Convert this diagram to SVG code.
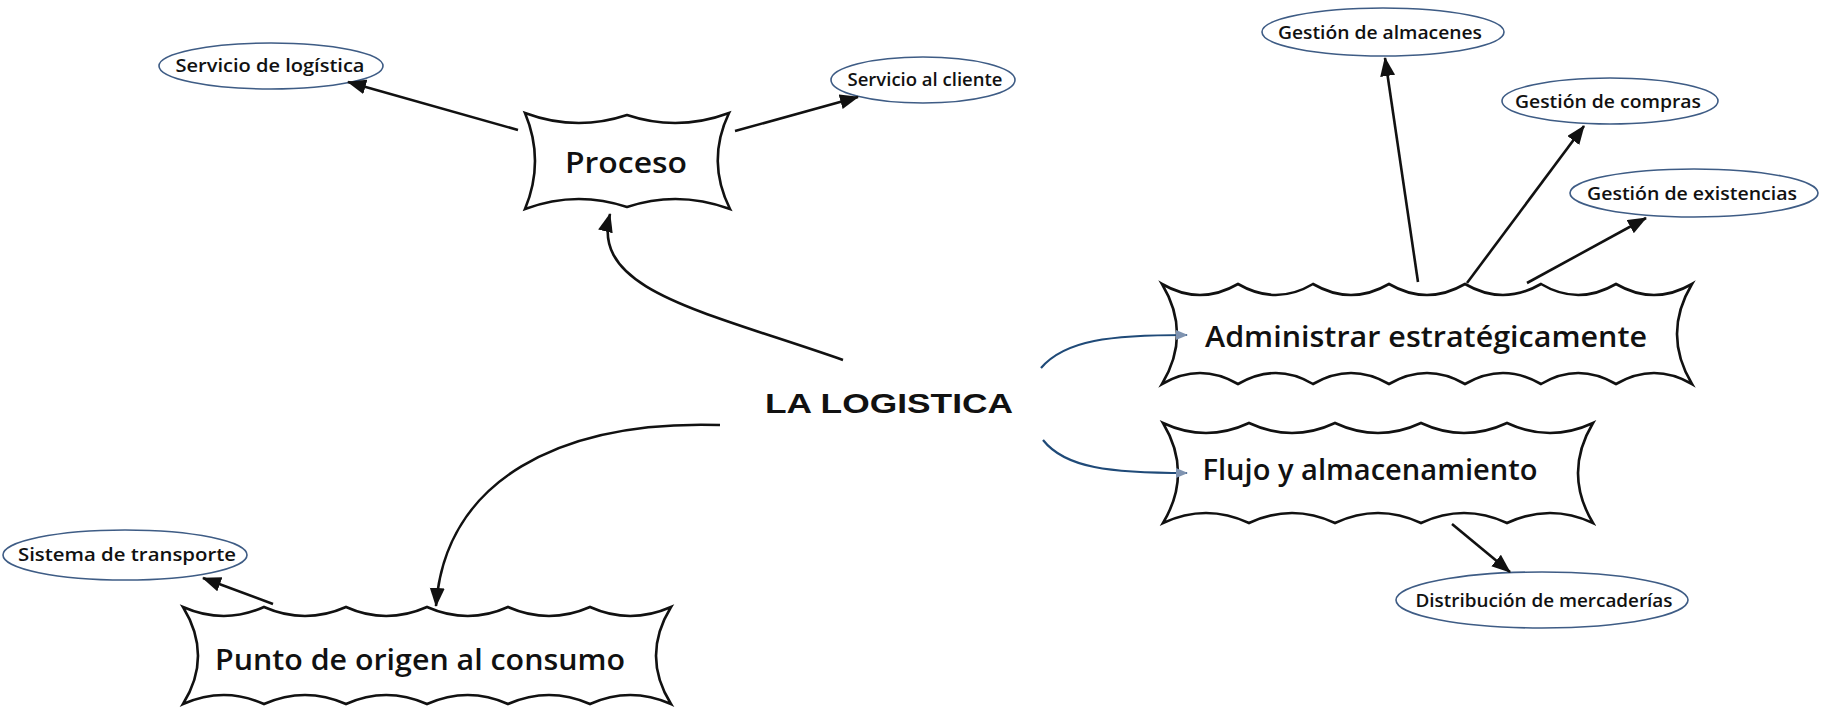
<svg xmlns="http://www.w3.org/2000/svg" width="1821" height="707" viewBox="0 0 1821 707">
  <defs>
    <style>
      .box { fill: #ffffff; stroke: #111111; stroke-width: 2.6; stroke-linejoin: miter; }
      .oval { fill: #ffffff; stroke: #3e5c85; stroke-width: 1.6; }
      .lbl { font-family: "Open Sans", "Noto Sans", sans-serif; font-weight: 600; fill: #111111; text-anchor: middle; }
      .big { font-size: 28px; }
      .small { font-size: 18px; }
      .title { font-family: "Liberation Sans", Arial, sans-serif; font-weight: bold; font-size: 28px; fill: #111111; }
      .link { fill: none; stroke: #111111; stroke-width: 2.6; marker-end: url(#arrow); }
      .blue { fill: none; stroke: #1f4a78; stroke-width: 2.2; marker-end: url(#arrowBlue); }
    </style>
    <marker id="arrow" markerUnits="userSpaceOnUse" markerWidth="20" markerHeight="16" refX="18" refY="7.5" orient="auto">
      <path d="M0,0 L19,7.5 L0,15 Z" fill="#111111"/>
    </marker>
    <marker id="arrowBlue" markerUnits="userSpaceOnUse" markerWidth="14" markerHeight="12" refX="11" refY="5" orient="auto">
      <path d="M0,0 L12,5 L0,10 Z" fill="#7f93b0"/>
    </marker>
  </defs>

  <rect width="1821" height="707" fill="#ffffff"/>

  <!-- Central topic -->
  <g id="la-logistica">
    <text class="title" x="765" y="413" textLength="248" lengthAdjust="spacingAndGlyphs">LA LOGISTICA</text>
  </g>

  <!-- Scroll-shaped boxes -->
  <g id="proceso">
    <path class="box" d="M525,113 Q576,132 627,115 Q678,132 729,113 Q706,161 730,209 Q678,190 627,207 Q576,190 525,209 Q545,161 525,113 Z"/>
    <text class="lbl big" x="626" y="173" textLength="122" lengthAdjust="spacingAndGlyphs">Proceso</text>
  </g>

  <g id="administrar">
    <path class="box" d="M1162,284 Q1200,306 1238,284 Q1276,306 1313,284 Q1351,306 1389,284 Q1427,306 1465,284 Q1503,306 1541,284 Q1578,306 1616,284 Q1654,306 1692,284 Q1662,334 1692,384 Q1654,362 1616,384 Q1578,362 1541,384 Q1503,362 1465,384 Q1427,362 1389,384 Q1351,362 1313,384 Q1276,362 1238,384 Q1200,362 1162,384 Q1192,334 1162,284 Z"/>
    <text class="lbl big" x="1426" y="347" textLength="442" lengthAdjust="spacingAndGlyphs">Administrar estratégicamente</text>
  </g>

  <g id="flujo">
    <path class="box" d="M1163,423 Q1206,443 1249,423 Q1292,443 1335,423 Q1378,443 1421,423 Q1464,443 1507,423 Q1550,443 1593,423 Q1563,473 1593,523 Q1550,503 1507,523 Q1464,503 1421,523 Q1378,503 1335,523 Q1292,503 1249,523 Q1206,503 1163,523 Q1193,473 1163,423 Z"/>
    <text class="lbl big" x="1370" y="480" textLength="335" lengthAdjust="spacingAndGlyphs">Flujo y almacenamiento</text>
  </g>

  <g id="punto">
    <path class="box" d="M183,607 Q224,625 264,607 Q305,625 346,607 Q386,625 427,607 Q468,625 508,607 Q549,625 590,607 Q630,625 671,607 Q641,656 671,704 Q630,686 590,704 Q549,686 508,704 Q468,686 427,704 Q386,686 346,704 Q305,686 264,704 Q224,686 183,704 Q213,656 183,607 Z"/>
    <text class="lbl big" x="420" y="670" textLength="410" lengthAdjust="spacingAndGlyphs">Punto de origen al consumo</text>
  </g>

  <!-- Oval leaves -->
  <g id="servicio-logistica">
    <ellipse class="oval" cx="271" cy="66" rx="112" ry="23"/>
    <text class="lbl small" x="270" y="72" textLength="189" lengthAdjust="spacingAndGlyphs">Servicio de logística</text>
  </g>
  <g id="servicio-cliente">
    <ellipse class="oval" cx="923" cy="80" rx="92" ry="23"/>
    <text class="lbl small" x="925" y="86" textLength="155" lengthAdjust="spacingAndGlyphs">Servicio al cliente</text>
  </g>
  <g id="sistema-transporte">
    <ellipse class="oval" cx="125" cy="555" rx="122" ry="25"/>
    <text class="lbl small" x="127" y="561" textLength="218" lengthAdjust="spacingAndGlyphs">Sistema de transporte</text>
  </g>
  <g id="gestion-almacenes">
    <ellipse class="oval" cx="1383" cy="32" rx="121" ry="24"/>
    <text class="lbl small" x="1380" y="39" textLength="204" lengthAdjust="spacingAndGlyphs">Gestión de almacenes</text>
  </g>
  <g id="gestion-compras">
    <ellipse class="oval" cx="1610" cy="101" rx="108" ry="23"/>
    <text class="lbl small" x="1608" y="108" textLength="186" lengthAdjust="spacingAndGlyphs">Gestión de compras</text>
  </g>
  <g id="gestion-existencias">
    <ellipse class="oval" cx="1694" cy="193" rx="124" ry="24"/>
    <text class="lbl small" x="1692" y="200" textLength="210" lengthAdjust="spacingAndGlyphs">Gestión de existencias</text>
  </g>
  <g id="distribucion">
    <ellipse class="oval" cx="1542" cy="600" rx="146" ry="28"/>
    <text class="lbl small" x="1544" y="607" textLength="257" lengthAdjust="spacingAndGlyphs">Distribución de mercaderías</text>
  </g>

  <!-- Connectors -->
  <g id="connectors">
    <path class="link" d="M843,360 C700,310 590,290 610,214"/>
    <path class="link" d="M720,425 C560,420 445,480 436,606"/>
    <path class="link" d="M518,130 L348,82"/>
    <path class="link" d="M735,131 L858,97"/>
    <path class="link" d="M273,604 L203,578"/>
    <path class="link" d="M1418,282 L1385,58"/>
    <path class="link" d="M1467,283 L1584,126"/>
    <path class="link" d="M1527,283 L1646,218"/>
    <path class="link" d="M1452,524 L1510,572"/>
    <path class="blue" d="M1041,368 C1065,340 1110,335 1187,335"/>
    <path class="blue" d="M1043,440 C1065,468 1110,473 1187,473"/>
  </g>
</svg>
